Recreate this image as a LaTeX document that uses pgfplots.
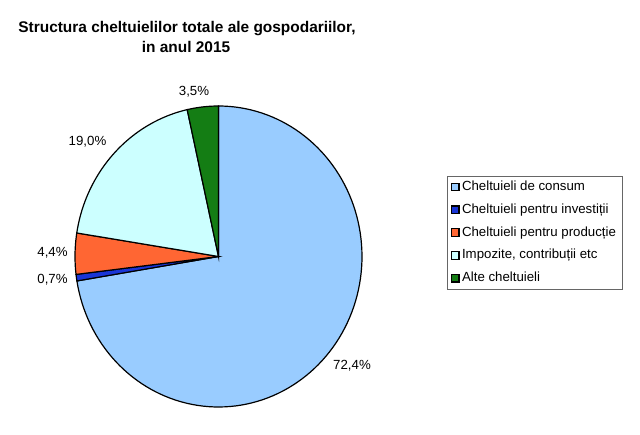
\documentclass[border=0pt]{standalone}
\usepackage{pgfplots}
\pgfplotsset{compat=1.18}
\usepackage{fontspec}
\setmainfont{Liberation Sans}
\definecolor{cons}{HTML}{99CCFF}
\definecolor{inv}{HTML}{1A35D6}
\definecolor{prod}{HTML}{FF6633}
\definecolor{imp}{HTML}{CCFFFF}
\definecolor{alte}{HTML}{147D14}
% slice values (percent), clockwise from 12 o'clock
\def\vA{72.4}\def\vB{0.7}\def\vC{4.4}\def\vD{19.0}\def\vE{3.5}
\def\cx{218.5}\def\cy{178.5}\def\rx{143.5}\def\ry{150.5}
\begin{document}
\begin{tikzpicture}
\useasboundingbox (0,0) rectangle (640bp,435bp);
\pgfmathsetmacro{\aA}{90}
\pgfmathsetmacro{\aB}{\aA-3.6*\vA}
\pgfmathsetmacro{\aC}{\aB-3.6*\vB}
\pgfmathsetmacro{\aD}{\aC-3.6*\vC}
\pgfmathsetmacro{\aE}{\aD-3.6*\vD}
\pgfmathsetmacro{\aF}{\aE-3.6*\vE}
\begin{axis}[
  at={(0,0)}, anchor=south west,
  scale only axis, width=640bp, height=435bp,
  xmin=0, xmax=640, ymin=0, ymax=435,
  axis lines=none, clip=false,
  legend image code/.code={\draw[#1, draw=black, line width=1.1pt] (0bp,-3.8bp) rectangle (7.6bp,3.8bp);},
  legend style={at={(axis cs:447,259)}, anchor=north west, draw=black!60, line width=0.7pt,
    font=\fontsize{13.3}{15}\selectfont, inner xsep=3.5bp, inner ysep=2.5bp,
    row sep=6.4bp, nodes={text height=9.6bp, text depth=2.8bp, inner xsep=2.5bp}},
  legend cell align=left,
]
\addplot[fill=cons, draw=black, line width=1.2pt, domain=\aB:\aA, samples=120, variable=\t]
  ({\cx+\rx*cos(t)},{\cy+\ry*sin(t)}) -- (axis cs:\cx,\cy) -- cycle;
\addlegendentry{Cheltuieli de consum}
\addplot[fill=inv, draw=black, line width=1.2pt, domain=\aC:\aB, samples=5, variable=\t]
  ({\cx+\rx*cos(t)},{\cy+\ry*sin(t)}) -- (axis cs:\cx,\cy) -- cycle;
\addlegendentry{Cheltuieli pentru investiții}
\addplot[fill=prod, draw=black, line width=1.2pt, domain=\aD:\aC, samples=12, variable=\t]
  ({\cx+\rx*cos(t)},{\cy+\ry*sin(t)}) -- (axis cs:\cx,\cy) -- cycle;
\addlegendentry{Cheltuieli pentru producție}
\addplot[fill=imp, draw=black, line width=1.2pt, domain=\aE:\aD, samples=40, variable=\t]
  ({\cx+\rx*cos(t)},{\cy+\ry*sin(t)}) -- (axis cs:\cx,\cy) -- cycle;
\addlegendentry{Impozite, contribuții etc}
\addplot[fill=alte, draw=black, line width=1.2pt, domain=\aF:\aE, samples=10, variable=\t]
  ({\cx+\rx*cos(t)},{\cy+\ry*sin(t)}) -- (axis cs:\cx,\cy) -- cycle;
\addlegendentry{Alte cheltuieli}
% title
\node[font=\fontsize{15.5}{18}\selectfont\bfseries, anchor=base] at (axis cs:187,402.7) {Structura cheltuielilor totale ale gospodariilor,};
\node[font=\fontsize{15.5}{18}\selectfont\bfseries, anchor=base] at (axis cs:186,382.3) {in anul 2015};
% slice labels
\node[font=\fontsize{13.3}{15}\selectfont] at (axis cs:194,343.5) {3,5\%};
\node[font=\fontsize{13.3}{15}\selectfont] at (axis cs:87.5,293.3) {19,0\%};
\node[font=\fontsize{13.3}{15}\selectfont] at (axis cs:52.5,182) {4,4\%};
\node[font=\fontsize{13.3}{15}\selectfont] at (axis cs:52.5,155) {0,7\%};
\node[font=\fontsize{13.3}{15}\selectfont] at (axis cs:352,69) {72,4\%};
\end{axis}
\end{tikzpicture}
\end{document}
